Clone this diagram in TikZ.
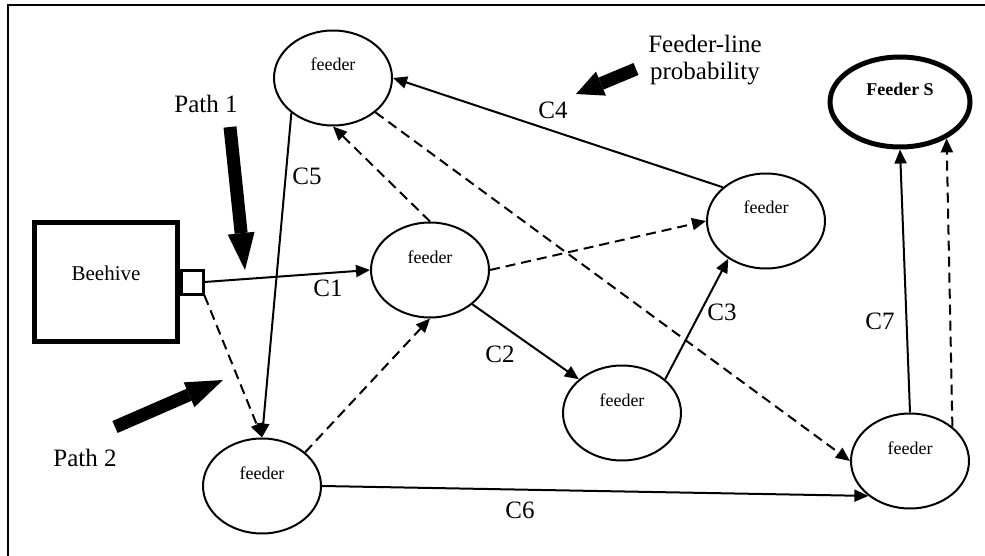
\documentclass[tikz,border=0pt]{standalone}
\usepackage{fontspec}
\setmainfont{Liberation Serif}
\usetikzlibrary{shapes,arrows.meta}

\tikzset{
  feeder/.style={shape=ellipse,draw=black,line width=2pt,inner sep=0pt,minimum width=118pt,minimum height=95pt,
    font=\fontsize{18}{20}\selectfont,text height=12pt,text depth=26pt},
  link/.style={-{Triangle[length=14pt,width=12pt]},draw=black,line width=2pt},
  maybe/.style={link,dash pattern=on 10pt off 6pt},
  bigarrow/.style={draw=black,line width=13pt,-{Triangle[length=37pt,width=27pt,line width=0pt]}},
  tag/.style={font=\fontsize{25}{27}\selectfont,inner sep=0pt},
}

\begin{document}
\begin{tikzpicture}[x=1pt,y=-1pt]
\useasboundingbox (0,0) rectangle (985,556);
\draw[line width=2pt] (8,556) -- (8,5) -- (985,5);

% hive and its entrance
\node[draw=black,line width=5pt,inner sep=0pt,minimum width=143pt,minimum height=118pt,
  font=\fontsize{21}{23}\selectfont,text height=14pt,text depth=18pt] (hive) at (106,282) {Beehive};
\node[draw=black,line width=3pt,inner sep=0pt,minimum width=22pt,minimum height=24pt] (door) at (192,282) {};

% feeders
\node[feeder] (f1) at (333,78) {feeder};
\node[feeder] (f2) at (430,270) {feeder};
\node[feeder] (f3) at (766,221) {feeder};
\node[feeder] (f4) at (622,413) {feeder};
\node[feeder] (f5) at (262,486) {feeder};
\node[feeder] (f6) at (910,461) {feeder};
\node[feeder,line width=5pt,minimum width=140pt,minimum height=90pt,font=\fontsize{18}{20}\selectfont\bfseries,
  text depth=24pt] (fs) at (900,102) {Feeder S};

% paths
\draw[link] (door.east) -- (f2.west);
\draw[link] (f1.220) -- (f5.north);
\draw[maybe] (door.south east) -- (f5.north);
\draw[maybe] (f5.38) -- (f2.south);
\draw[maybe] (f2.north) -- (f1.south);
\draw[maybe] (f2.east) -- (f3.west);
\draw[link] (f2.-39) -- (f4.142);
\draw[link] (f4.38) -- (f3.225);
\draw[link] (f3.142) -- (f1.east);
\draw[maybe] (f1.-39) -- (f6.west);
\draw[link] (f5.east) -- (f6.220);
\draw[link] (f6.north) -- (fs.south);
\draw[maybe] (f6.39) -- (fs.-38);

% costs
\node[tag] (c1) at (328,288) {C1};
\node[tag] (c2) at (500,354) {C2};
\node[tag] (c3) at (722,312) {C3};
\node[tag] (c4) at (553,110) {C4};
\node[tag] (c5) at (307,176) {C5};
\node[tag] (c6) at (520,510) {C6};
\node[tag] (c7) at (880,321) {C7};

% pointers
\node[tag] (p1) at (206,104) {Path 1};
\node[tag] (p2) at (85,458) {Path 2};
\node[tag,align=center] (fl) at (705,60) {Feeder-line\\probability};
\coordinate (p1a) at (230,127);
\coordinate (p1b) at (245,270);
\coordinate (p2a) at (115,427);
\coordinate (p2b) at (223,380);
\coordinate (fla) at (636,69);
\coordinate (flb) at (576,94);
\draw[bigarrow] (p1a) -- (p1b);
\draw[bigarrow] (p2a) -- (p2b);
\draw[bigarrow,-{Triangle[length=27pt,width=26pt,line width=0pt]}] (fla) -- (flb);
\end{tikzpicture}
\end{document}
